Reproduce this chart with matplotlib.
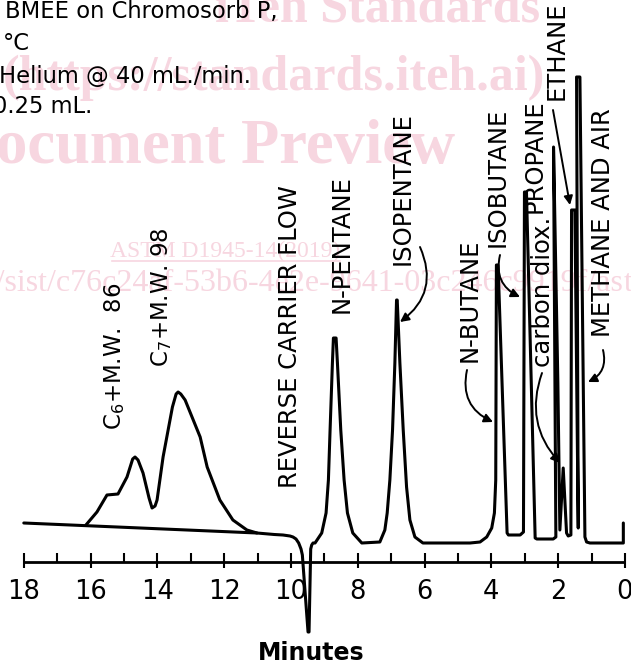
import matplotlib
matplotlib.use('Agg')
import matplotlib.pyplot as plt

# ---------------- data (time in minutes, detector signal in arbitrary units) ----------------
trace_time = [18.00, 11.02, 10.50, 10.24, 10.03, 9.94, 9.85, 9.77, 9.70, 9.66, 9.49, 9.46, 9.41, 9.38, 9.34, 9.28,
              9.08, 8.95, 8.88, 8.83, 8.76, 8.73, 8.65, 8.61, 8.51, 8.41, 8.31, 8.15, 7.88,
              7.34, 7.19, 7.12, 7.04, 6.96, 6.89, 6.84, 6.82, 6.74, 6.64, 6.54, 6.44, 6.29, 6.05,
              4.64, 4.34, 4.14, 3.99, 3.91, 3.87, 3.85, 3.80, 3.53, 3.49, 3.14, 3.04,
              3.01, 2.95, 2.69, 2.64, 2.15, 2.07,
              2.14, 2.01, 1.95,
              1.85, 1.75, 1.70, 1.62,
              1.60, 1.50, 1.40,
              1.45, 1.35, 1.20, 1.15, 1.05, 0.05, 0.05]
trace_signal = [20, 10, 8.5, 8, 7, 6, 4, 0, -6, -12, -89, -89, -6, -2, 0, 0,
                10, 30, 63, 113, 180, 205, 205, 180, 113, 63, 30, 10, 0,
                1, 13, 30, 63, 113, 180, 243, 243, 180, 113, 56, 23, 6, 0,
                0, 1, 6, 15, 30, 63, 278, 278, 10, 8, 8, 11,
                351, 351, 5, 4, 4, 6,
                396, 160, 13,
                75, 10, 7, 8,
                333, 333, 15,
                466, 466, 6, 1, 0, 0, 20]

# heavy-end (backflushed) hump: C6+ and C7+
hump_time = [16.14, 15.81, 15.51, 15.18, 14.91, 14.74, 14.67, 14.58, 14.43, 14.25, 14.16, 14.07, 14.01,
             13.83, 13.55, 13.44, 13.38, 13.30, 13.17, 12.72, 12.51, 12.13, 11.74, 11.32, 11.02]
hump_signal = [18, 31, 48, 49, 66, 84, 86, 83, 70, 45, 35, 37, 43,
               86, 136, 149, 151, 149, 143, 106, 76, 43, 23, 13, 10]

major_ticks = [18, 16, 14, 12, 10, 8, 6, 4, 2, 0]
minor_ticks = [17, 15, 13, 11, 9, 7, 5, 3, 1]
tick_labels = ['18', '16', '14', '12', '10', '8', '6', '4', '2', '0']

header_lines = ['BMEE on Chromosorb P,', '°C', 'Helium @ 40 mL./min.', '0.25 mL.']

# ---------------- figure ----------------
PX_PER_MIN = 33.4
def mx(px):
    return (625 - px) / PX_PER_MIN
def my(py):
    return 543 - py

fig = plt.figure(figsize=(6.31, 6.66), dpi=100)
ax = fig.add_axes([0, 0, 1, 1])
ax.set_xlim(mx(0), mx(631))
ax.set_ylim(my(666), my(0))
ax.axis('off')

# ---- faint watermark ----
wm = '#f7d6e0'
wmf = 'Liberation Serif'
ax.text(mx(540), my(22), 'iTeh Standards', ha='right', va='baseline', fontsize=36,
        fontweight='bold', family=wmf, color=wm, zorder=0)
ax.text(mx(545), my(90), '(https://standards.iteh.ai)', ha='right', va='baseline', fontsize=36,
        fontweight='bold', family=wmf, color=wm, zorder=0)
ax.text(mx(455), my(163), 'Document Preview', ha='right', va='baseline', fontsize=45,
        fontweight='bold', family=wmf, color=wm, zorder=0)
ax.text(mx(340), my(257), 'ASTM D1945-14(2019)', ha='right', va='baseline', fontsize=17,
        family=wmf, color=wm, zorder=0)
ax.plot([mx(112), mx(340)], [my(261), my(261)], color=wm, lw=1.2, zorder=0)
ax.text(mx(624), my(291), 'https://standards.iteh.ai/catalog/standards/sist/c76c24af-53b6-4e2e-9641-03c246c9919f/as',
        ha='right', va='baseline', fontsize=23, family=wmf, color=wm, zorder=0)
ax.text(mx(624), my(291), 'tm-d1945-142019', ha='left', va='baseline', fontsize=23,
        family=wmf, color=wm, zorder=0)

# ---- traces ----
ax.plot(trace_time, trace_signal, color='black', lw=2.2, solid_joinstyle='round',
        solid_capstyle='round', zorder=3)
ax.plot(hump_time, hump_signal, color='black', lw=2.2, solid_joinstyle='round',
        solid_capstyle='round', zorder=3)

# ---- time axis ----
ax.plot([18, 0], [my(562), my(562)], color='black', lw=2.0, solid_capstyle='butt', zorder=3)
ax.vlines(major_ticks, my(568), my(553), color='black', lw=1.5, zorder=3)
ax.vlines(minor_ticks, my(562), my(553), color='black', lw=1.5, zorder=3)
for t, lab in zip(major_ticks, tick_labels):
    ax.text(t, my(592), lab, ha='center', va='center', fontsize=18.5, family='DejaVu Sans')
ax.text(mx(311), my(653), 'Minutes', ha='center', va='center', fontsize=17,
        fontweight='bold', family='DejaVu Sans')

# ---- header text ----
hx = [5, 3, -1, -7]
hy = [18, 50, 83, 113]
for s, px, py in zip(header_lines, hx, hy):
    ax.text(mx(px), my(py), s, ha='left', va='baseline', fontsize=16.3, family='DejaVu Sans')

# ---- peak labels ----
labels = [
    ('REVERSE CARRIER FLOW', 290, 488, 17.5),
    ('N-PENTANE', 342, 313, 17.5),
    ('ISOPENTANE', 403, 265, 17.5),
    ('C$_6$+M.W.  86', 115, 430, 16.5),
    ('C$_7$+M.W. 98', 162, 367, 16.5),
    ('N-BUTANE', 470, 362, 17.5),
    ('ISOBUTANE', 498, 247, 17.5),
    ('PROPANE', 535, 213, 17.5),
    ('carbon diox.', 543, 367, 17.5),
    ('ETHANE', 557, 100, 17.5),
    ('METHANE AND AIR', 603, 337, 17.5),
]
for s, px, py, fs in labels:
    ax.text(mx(px), my(py), s, rotation=90, ha='center', va='bottom', fontsize=fs,
            family='DejaVu Sans', zorder=4)

# ---- arrows ----
arrows = [
    ((420, 247), (400, 322), -0.4),   # isopentane
    ((467, 370), (493, 422), 0.4),    # n-butane
    ((500, 255), (520, 297), 0.4),    # isobutane
    ((542, 373), (560, 463), 0.3),    # carbon dioxide
    ((553, 110), (570, 205), 0.0),    # ethane
    ((603, 350), (588, 382), -0.4),   # methane and air
]
for (sx, sy), (tx, ty), rad in arrows:
    ax.annotate('', xy=(mx(tx), my(ty)), xytext=(mx(sx), my(sy)),
                arrowprops=dict(arrowstyle='-|>', color='black', lw=1.4, mutation_scale=13,
                                shrinkA=0, shrinkB=0, connectionstyle=f'arc3,rad={rad}'),
                zorder=4)

fig.savefig('out.png', dpi=100)
